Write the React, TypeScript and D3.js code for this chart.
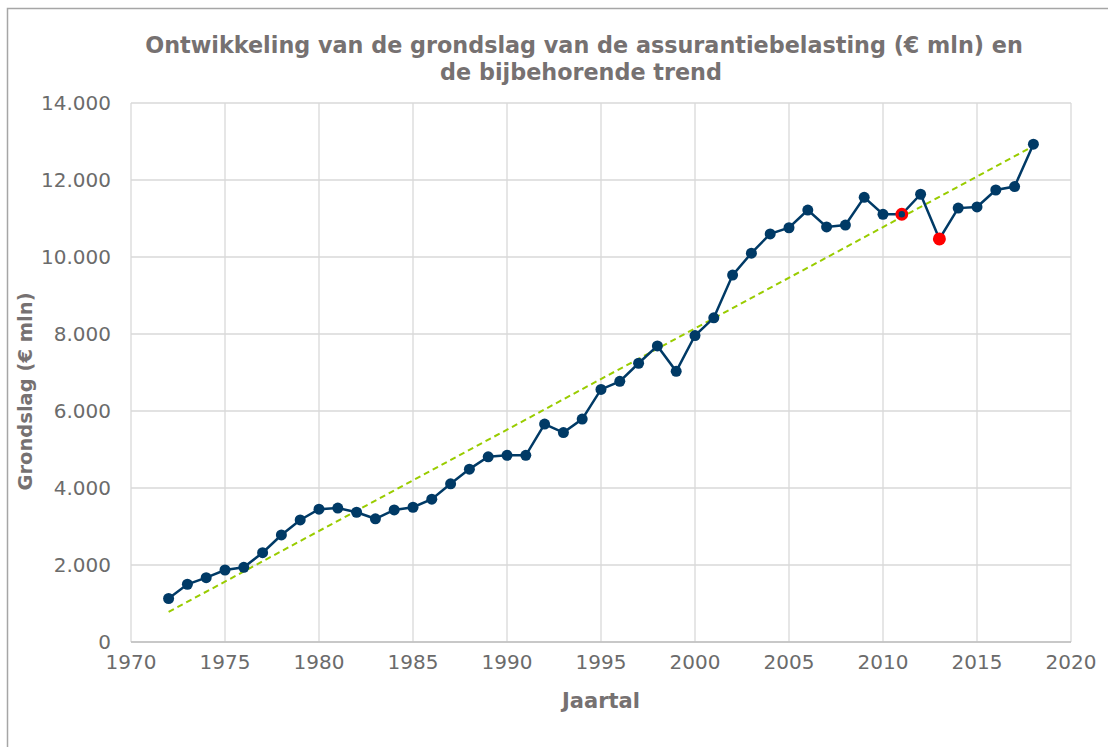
import React from 'react';
import * as d3 from 'd3';

const years = [
  1972, 1973, 1974, 1975, 1976, 1977, 1978, 1979, 1980, 1981,
  1982, 1983, 1984, 1985, 1986, 1987, 1988, 1989, 1990, 1991,
  1992, 1993, 1994, 1995, 1996, 1997, 1998, 1999, 2000, 2001,
  2002, 2003, 2004, 2005, 2006, 2007, 2008, 2009, 2010, 2011,
  2012, 2013, 2014, 2015, 2016, 2017, 2018,
];
const grondslag = [
  1130, 1500, 1670, 1870, 1940, 2320, 2780, 3170, 3450, 3480,
  3370, 3200, 3430, 3500, 3710, 4110, 4490, 4810, 4850, 4850,
  5660, 5440, 5790, 6560, 6770, 7240, 7690, 7030, 7960, 8420,
  9530, 10100, 10600, 10760, 11220, 10780, 10830, 11550, 11110, 11110,
  11630, 10470, 11270, 11300, 11740, 11830, 12930,
];
// trend line endpoints (1972, 2018)
const trendYears = [1972, 2018];
const trendValues = [780, 12880];
const ringYears = [2011];
const redYears = [2013];

const xTicks = [1970, 1975, 1980, 1985, 1990, 1995, 2000, 2005, 2010, 2015, 2020];
const yTicks = [0, 2000, 4000, 6000, 8000, 10000, 12000, 14000];

const title1 = 'Ontwikkeling van de grondslag van de assurantiebelasting (€ mln) en';
const title2 = 'de bijbehorende trend';
const xTitle = 'Jaartal';
const yTitle = 'Grondslag (€ mln)';

const W = 1108;
const H = 747;
const m = { left: 131, right: 1071, top: 103, bottom: 642 };
const font = '"DejaVu Sans", Verdana, sans-serif';
const navy = '#003a66';
const grey = '#767171';

const fmt = (v: number) => (v === 0 ? '0' : d3.format(',')(v).replace(/,/g, '.'));

export default function App() {
  const x = d3.scaleLinear().domain([1970, 2020]).range([m.left, m.right]);
  const y = d3.scaleLinear().domain([0, 14000]).range([m.bottom, m.top]);

  const line = d3
    .line<number>()
    .x((_, i) => x(years[i]))
    .y((d) => y(d));

  const valueOf = (yr: number) => grondslag[years.indexOf(yr)];
  const cx = (m.left + m.right) / 2;

  return (
    <svg
      width={W}
      height={H}
      style={{ position: 'absolute', left: 0, top: 0, background: '#fff' }}
      fontFamily={font}
    >
      <rect x={7.5} y={8.5} width={W + 10} height={H + 10} fill="#fff" stroke="#a6a6a6" strokeWidth={1.5} />

      {/* gridlines */}
      {yTicks.map((t) => (
        <line key={'gy' + t} x1={m.left} x2={m.right} y1={y(t)} y2={y(t)} stroke="#d9d9d9" strokeWidth={1.3} />
      ))}
      {xTicks.map((t) => (
        <line key={'gx' + t} x1={x(t)} x2={x(t)} y1={m.top} y2={m.bottom} stroke="#d9d9d9" strokeWidth={1.3} />
      ))}
      <line x1={m.left} x2={m.right} y1={m.bottom} y2={m.bottom} stroke="#bfbfbf" strokeWidth={1.3} />

      {/* tick labels */}
      {yTicks.map((t) => (
        <text key={'ty' + t} x={m.left - 20} y={y(t)} dy="0.35em" textAnchor="end" fontSize={20} fill="#6b6b6b">
          {fmt(t)}
        </text>
      ))}
      {xTicks.map((t) => (
        <text key={'tx' + t} x={x(t)} y={m.bottom + 27} textAnchor="middle" fontSize={20} fill="#6b6b6b">
          {t}
        </text>
      ))}

      {/* trend */}
      <line
        x1={x(trendYears[0])}
        y1={y(trendValues[0])}
        x2={x(trendYears[1])}
        y2={y(trendValues[1])}
        stroke="#99cc00"
        strokeWidth={2}
        strokeDasharray="6,4"
      />

      {/* series */}
      <path d={line(grondslag) || ''} fill="none" stroke={navy} strokeWidth={2.5} />
      {years.map((yr, i) => (
        <circle key={'p' + yr} cx={x(yr)} cy={y(grondslag[i])} r={5.5} fill={navy} />
      ))}
      {ringYears.map((yr) => (
        <circle key={'r' + yr} cx={x(yr)} cy={y(valueOf(yr))} r={4.8} fill={navy} stroke="#ff0000" strokeWidth={3.2} />
      ))}
      {redYears.map((yr) => (
        <circle key={'rd' + yr} cx={x(yr)} cy={y(valueOf(yr))} r={6.5} fill="#ff0000" />
      ))}

      {/* titles */}
      <text x={cx - 17} y={53} textAnchor="middle" fontSize={22.3} fontWeight="bold" fill={grey}>
        {title1}
      </text>
      <text x={cx - 20} y={80} textAnchor="middle" fontSize={22.3} fontWeight="bold" fill={grey}>
        {title2}
      </text>
      <text x={cx} y={708} textAnchor="middle" fontSize={21} fontWeight="bold" fill={grey}>
        {xTitle}
      </text>
      <text
        transform={`translate(32,${(m.top + m.bottom) / 2 + 19}) rotate(-90)`}
        textAnchor="middle"
        fontSize={19.5}
        fontWeight="bold"
        fill={grey}
      >
        {yTitle}
      </text>
    </svg>
  );
}
